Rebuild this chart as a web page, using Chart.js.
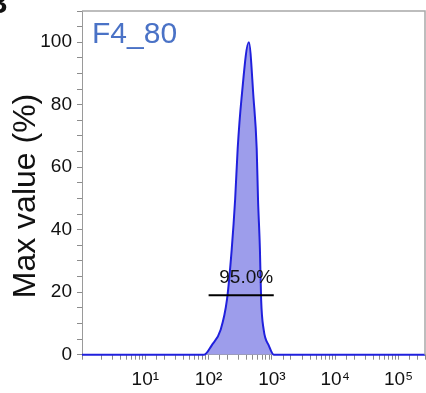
<!DOCTYPE html>
<html>
<head>
<meta charset="utf-8">
<script src="https://cdn.jsdelivr.net/npm/chart.js@4.4.0/dist/chart.umd.min.js"></script>
<style>
  html, body { margin: 0; padding: 0; background: #ffffff; }
</style>
</head>
<body>
<canvas id="histChart" width="426" height="393"></canvas>
<script>
// Histogram trace (x = intensity, y = % of max)
const histX = [1, 85, 112, 155, 195, 232, 263, 288, 331, 432, 513, 575, 603, 646, 676, 741, 891, 1072, 262144];
const histY = [0, 0, 3, 8, 17.6, 33.8, 50, 66, 82, 100, 82, 66, 50, 34, 17.6, 8, 3, 0, 0];

// Gate marker
const gateX = [100, 1070];
const gateY = [19, 19];
const gateLabel = '95.0%';

// Tick labels
const xTickLabels = { 10: '10¹', 100: '10²', 1000: '10³', 10000: '10⁴', 100000: '10⁵' };
const yTickLabels = [0, 20, 40, 60, 80, 100];

const sampleName = 'F4_80';
const yTitle = 'Max value (%)';
const panelLetter = 'B';

const FONT = '"Liberation Sans", Arial, sans-serif';

// Texts and frame that Chart.js does not draw by itself
const overlayPlugin = {
  id: 'overlay',
  afterDraw(chart) {
    const { ctx, chartArea, scales } = chart;
    ctx.save();

    // top / right frame
    ctx.strokeStyle = '#a8a8a8';
    ctx.lineWidth = 1.5;
    ctx.beginPath();
    ctx.moveTo(chartArea.left, chartArea.top);
    ctx.lineTo(chartArea.right, chartArea.top);
    ctx.lineTo(chartArea.right, chartArea.bottom);
    ctx.stroke();

    // sample name
    ctx.fillStyle = '#4a72c6';
    ctx.font = '30px ' + FONT;
    ctx.textAlign = 'left';
    ctx.textBaseline = 'alphabetic';
    ctx.fillText(sampleName, chartArea.left + 10, chartArea.top + 32);

    // gate label
    const gx = (scales.x.getPixelForValue(gateX[0]) + scales.x.getPixelForValue(gateX[1])) / 2 + 5;
    const gy = scales.y.getPixelForValue(gateY[0]);
    ctx.fillStyle = '#111111';
    ctx.font = '19px ' + FONT;
    ctx.textAlign = 'center';
    ctx.fillText(gateLabel, gx, gy - 12);

    // panel letter, cut at the edge like the source figure
    ctx.font = 'bold 30px ' + FONT;
    ctx.textAlign = 'left';
    ctx.fillText(panelLetter, -14, 13);

    // y axis title
    ctx.translate(35, 196);
    ctx.rotate(-Math.PI / 2);
    ctx.font = '32px ' + FONT;
    ctx.textAlign = 'center';
    ctx.fillText(yTitle, 0, 0);

    ctx.restore();
  }
};

const ctx = document.getElementById('histChart').getContext('2d');

new Chart(ctx, {
  type: 'line',
  data: {
    datasets: [
      {
        label: 'gate',
        data: gateX.map((x, i) => ({ x, y: gateY[i] })),
        borderColor: '#000000',
        borderWidth: 2,
        pointRadius: 0,
        fill: false,
        order: 0
      },
      {
        label: sampleName,
        data: histX.map((x, i) => ({ x, y: histY[i] })),
        borderColor: '#2020dd',
        backgroundColor: '#9d9deb',
        borderWidth: 2,
        pointRadius: 0,
        cubicInterpolationMode: 'monotone',
        fill: 'origin',
        clip: 4,
        order: 1
      }
    ]
  },
  options: {
    responsive: false,
    animation: false,
    layout: { padding: { top: 11, right: 1, left: 0, bottom: 0 } },
    scales: {
      x: {
        type: 'logarithmic',
        min: 1,
        max: 262144,
        afterFit: scale => {
          scale.height = 38.3;
          scale.paddingLeft = 0;
          scale.paddingRight = 0;
        },
        grid: { drawOnChartArea: false, tickLength: 5, color: '#8c8c8c' },
        border: { display: true, color: '#9a9a9a', width: 1 },
        ticks: {
          autoSkip: false,
          maxRotation: 0,
          padding: 9,
          color: '#111111',
          font: { size: 19, family: FONT },
          callback: value => xTickLabels[value] || ''
        }
      },
      y: {
        type: 'linear',
        min: 0,
        max: 110,
        afterFit: scale => {
          scale.width = 82;
          scale.paddingTop = 0;
          scale.paddingBottom = 0;
        },
        grid: { drawOnChartArea: false, tickLength: 5, color: '#8c8c8c' },
        border: { display: true, color: '#9a9a9a', width: 1 },
        ticks: {
          stepSize: 5,
          autoSkip: false,
          padding: 5,
          color: '#111111',
          font: { size: 19, family: FONT },
          callback: value => (yTickLabels.includes(value) ? value : '')
        }
      }
    },
    plugins: {
      legend: { display: false },
      tooltip: { enabled: false }
    }
  },
  plugins: [overlayPlugin]
});
</script>
</body>
</html>
